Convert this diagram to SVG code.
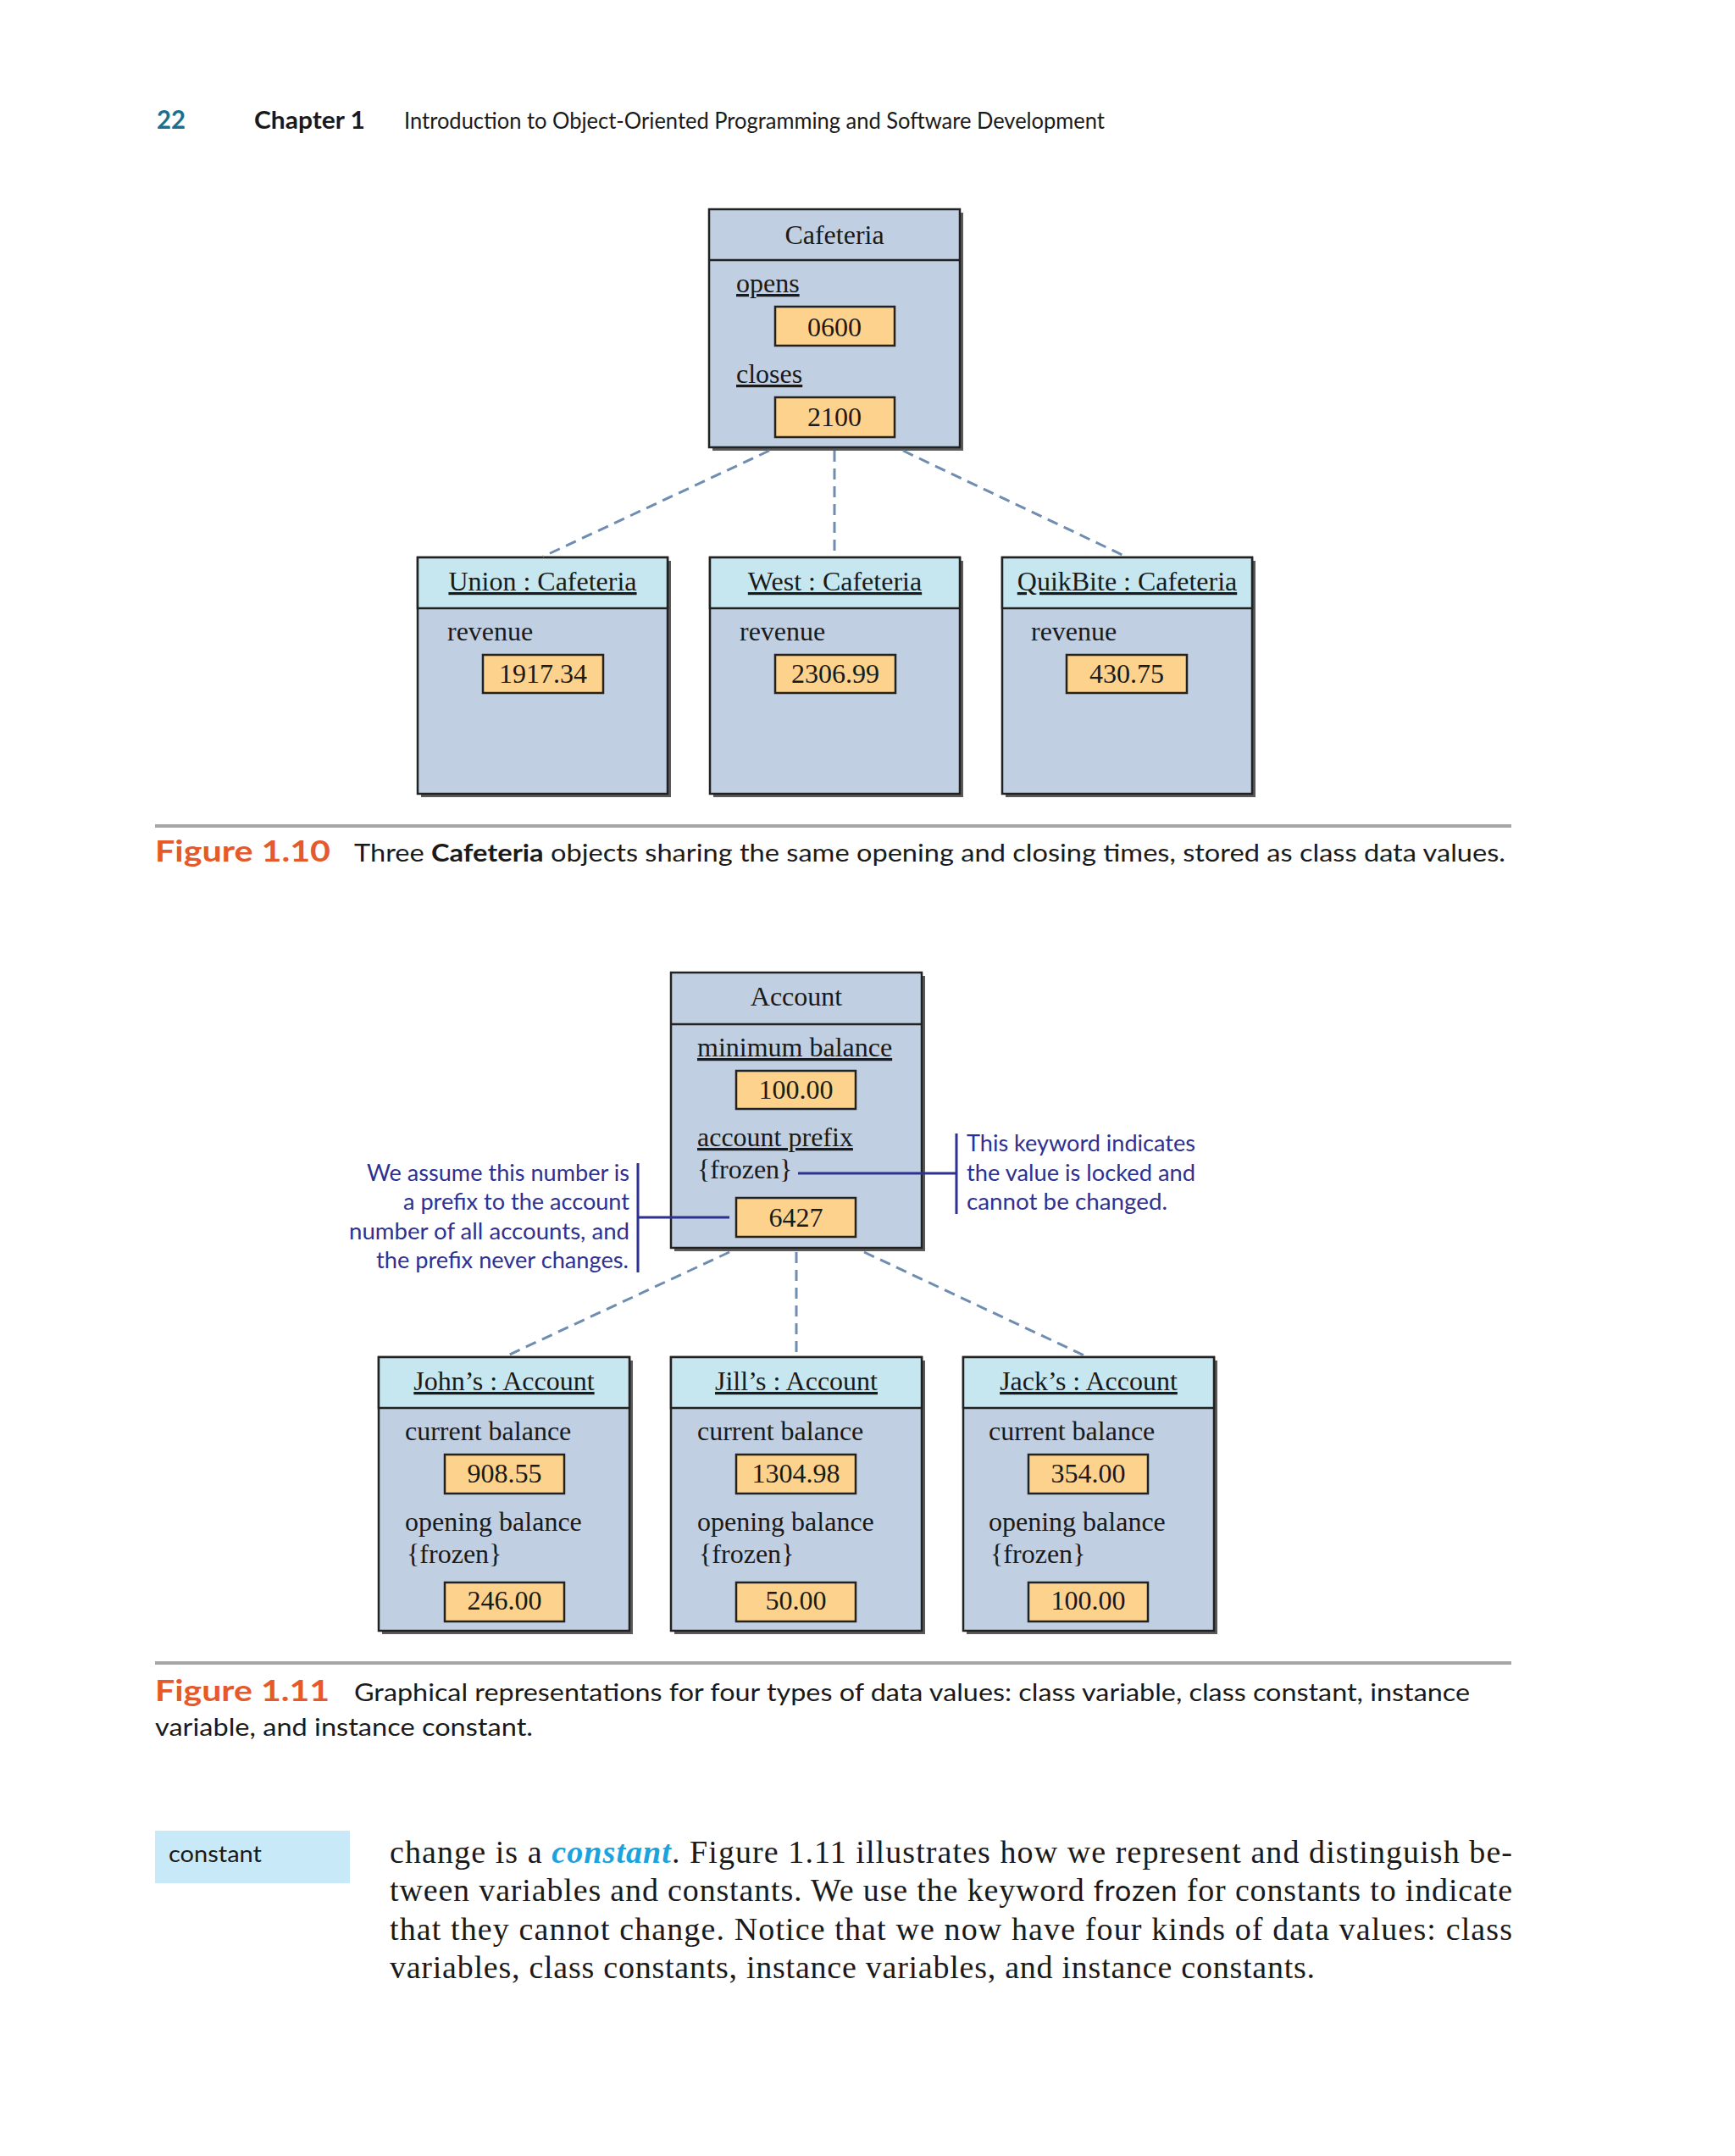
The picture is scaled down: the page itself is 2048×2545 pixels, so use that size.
<svg xmlns="http://www.w3.org/2000/svg" width="2048" height="2545" viewBox="0 0 2048 2545">
<style>
.s{font-family:"Liberation Serif","Times New Roman",serif;font-size:32px;fill:#1a1a1a}
.c{text-anchor:middle}
.u{text-decoration:underline}
.sans{font-family:Lato,"Liberation Sans",sans-serif}
.body{fill:#c0cfe1;stroke:#222;stroke-width:2.5}
.ohead{fill:#c6e7ef;stroke:#222;stroke-width:2.5}
.sh{fill:#5a5a5a}
.val{fill:#fdd28c;stroke:#222;stroke-width:2.5}
.dv{stroke:#222;stroke-width:2.5}
.dash{stroke:#6e8db0;stroke-width:3;stroke-dasharray:13 8;fill:none}
.ann{stroke:#2e3192;stroke-width:3;fill:none}
.annt{font-family:Lato,"Liberation Sans",sans-serif;font-size:27px;fill:#2e3192}
.cap{font-family:Lato,"Liberation Sans",sans-serif;font-size:29px;fill:#1a1a1a}
.fig{font-family:Lato,"Liberation Sans",sans-serif;font-size:35px;font-weight:700;fill:#e5592b}
.txt{font-family:"Liberation Serif","Times New Roman",serif;font-size:38px;fill:#1a1a1a}
</style>
<rect width="2048" height="2545" fill="#ffffff"/>

<g id="header">
<text x="185" y="152" class="sans" font-size="30" font-weight="700" fill="#1a6f8f" textLength="34" lengthAdjust="spacingAndGlyphs">22</text>
<text x="300" y="152" class="sans" font-size="29" font-weight="700" fill="#1a1a1a" textLength="131" lengthAdjust="spacingAndGlyphs">Chapter 1</text>
<text x="477" y="152" class="sans" font-size="26" fill="#1a1a1a" textLength="827" lengthAdjust="spacingAndGlyphs">Introduction to Object-Oriented Programming and Software Development</text>
</g>

<g id="cafeteria">
<rect class="sh" x="841" y="251" width="296" height="281"/>
<rect class="body" x="837" y="247" width="296" height="281"/>
<line class="dv" x1="837" y1="307" x2="1133" y2="307"/>
<text class="s c" x="985" y="288">Cafeteria</text>
<text class="s u" x="869" y="345">opens</text>
<rect class="val" x="915" y="362" width="141" height="46"/>
<text class="s c" x="985" y="397">0600</text>
<text class="s u" x="869" y="452">closes</text>
<rect class="val" x="915" y="469" width="141" height="47"/>
<text class="s c" x="985" y="503">2100</text>
</g>

<g id="union">
<rect class="sh" x="497" y="662" width="295" height="279"/>
<rect class="body" x="493" y="658" width="295" height="279"/>
<rect class="ohead" x="493" y="658" width="295" height="60"/>
<text class="s c u" x="640.5" y="697">Union : Cafeteria</text>
<text class="s" x="528" y="756">revenue</text>
<rect class="val" x="570" y="773" width="142" height="45"/>
<text class="s c" x="641" y="806">1917.34</text>
</g>

<g id="west">
<rect class="sh" x="842" y="662" width="295" height="279"/>
<rect class="body" x="838" y="658" width="295" height="279"/>
<rect class="ohead" x="838" y="658" width="295" height="60"/>
<text class="s c u" x="985.5" y="697">West : Cafeteria</text>
<text class="s" x="873" y="756">revenue</text>
<rect class="val" x="915" y="773" width="142" height="45"/>
<text class="s c" x="986" y="806">2306.99</text>
</g>

<g id="quikbite">
<rect class="sh" x="1187" y="662" width="295" height="279"/>
<rect class="body" x="1183" y="658" width="295" height="279"/>
<rect class="ohead" x="1183" y="658" width="295" height="60"/>
<text class="s c u" x="1330.5" y="697">QuikBite : Cafeteria</text>
<text class="s" x="1217" y="756">revenue</text>
<rect class="val" x="1259" y="773" width="142" height="45"/>
<text class="s c" x="1330" y="806">430.75</text>
</g>

<g id="caption110">
<rect x="183" y="973" width="1601" height="4" fill="#a6a6a6"/>
<text class="fig" x="183" y="1017" textLength="207" lengthAdjust="spacingAndGlyphs">Figure 1.10</text>
<text class="cap" x="418" y="1017" textLength="1359" lengthAdjust="spacingAndGlyphs">Three <tspan font-weight="700">Cafeteria</tspan> objects sharing the same opening and closing times, stored as class data values.</text>
</g>

<g id="account">
<rect class="sh" x="796" y="1152" width="296" height="325"/>
<rect class="body" x="792" y="1148" width="296" height="325"/>
<line class="dv" x1="792" y1="1209" x2="1088" y2="1209"/>
<text class="s c" x="940" y="1187">Account</text>
<text class="s u" x="823" y="1247">minimum balance</text>
<rect class="val" x="869" y="1264" width="141" height="45"/>
<text class="s c" x="939.5" y="1297">100.00</text>
<text class="s u" x="823" y="1353">account prefix</text>
<text class="s" x="823" y="1391">{frozen}</text>
<rect class="val" x="869" y="1414" width="141" height="46"/>
<text class="s c" x="939.5" y="1448">6427</text>
</g>

<g id="note-right">
<text class="annt" x="1141" y="1359" textLength="270" lengthAdjust="spacingAndGlyphs">This keyword indicates</text>
<text class="annt" x="1141" y="1394" textLength="270" lengthAdjust="spacingAndGlyphs">the value is locked and</text>
<text class="annt" x="1141" y="1428" textLength="237" lengthAdjust="spacingAndGlyphs">cannot be changed.</text>
</g>

<g id="note-left">
<text class="annt" x="433" y="1394" textLength="310" lengthAdjust="spacingAndGlyphs">We assume this number is</text>
<text class="annt" x="476" y="1428" textLength="267" lengthAdjust="spacingAndGlyphs">a prefix to the account</text>
<text class="annt" x="412" y="1463" textLength="331" lengthAdjust="spacingAndGlyphs">number of all accounts, and</text>
<text class="annt" x="444" y="1497" textLength="298" lengthAdjust="spacingAndGlyphs">the prefix never changes.</text>
</g>

<g id="john">
<rect class="sh" x="451" y="1606" width="296" height="323"/>
<rect class="body" x="447" y="1602" width="296" height="323"/>
<rect class="ohead" x="447" y="1602" width="296" height="60"/>
<text class="s c u" x="595" y="1641">John’s : Account</text>
<text class="s" x="478" y="1700">current balance</text>
<rect class="val" x="525" y="1717" width="141" height="46"/>
<text class="s c" x="595.5" y="1750">908.55</text>
<text class="s" x="478" y="1807">opening balance</text>
<text class="s" x="480" y="1845">{frozen}</text>
<rect class="val" x="525" y="1868" width="141" height="46"/>
<text class="s c" x="595.5" y="1900">246.00</text>
</g>

<g id="jill">
<rect class="sh" x="796" y="1606" width="296" height="323"/>
<rect class="body" x="792" y="1602" width="296" height="323"/>
<rect class="ohead" x="792" y="1602" width="296" height="60"/>
<text class="s c u" x="940" y="1641">Jill’s : Account</text>
<text class="s" x="823" y="1700">current balance</text>
<rect class="val" x="869" y="1717" width="141" height="46"/>
<text class="s c" x="939.5" y="1750">1304.98</text>
<text class="s" x="823" y="1807">opening balance</text>
<text class="s" x="825" y="1845">{frozen}</text>
<rect class="val" x="869" y="1868" width="141" height="46"/>
<text class="s c" x="939.5" y="1900">50.00</text>
</g>

<g id="jack">
<rect class="sh" x="1141" y="1606" width="296" height="323"/>
<rect class="body" x="1137" y="1602" width="296" height="323"/>
<rect class="ohead" x="1137" y="1602" width="296" height="60"/>
<text class="s c u" x="1285" y="1641">Jack’s : Account</text>
<text class="s" x="1167" y="1700">current balance</text>
<rect class="val" x="1214" y="1717" width="141" height="46"/>
<text class="s c" x="1284.5" y="1750">354.00</text>
<text class="s" x="1167" y="1807">opening balance</text>
<text class="s" x="1169" y="1845">{frozen}</text>
<rect class="val" x="1214" y="1868" width="141" height="46"/>
<text class="s c" x="1284.5" y="1900">100.00</text>
</g>

<g id="connectors">
<line class="dash" x1="908" y1="532" x2="641" y2="657"/>
<line class="dash" x1="985" y1="532" x2="985" y2="657"/>
<line class="dash" x1="1066" y1="532" x2="1329" y2="657"/>
<line class="dash" x1="861" y1="1478" x2="595" y2="1602"/>
<line class="dash" x1="940" y1="1478" x2="940" y2="1602"/>
<line class="dash" x1="1020" y1="1478" x2="1284" y2="1602"/>
<path class="ann" d="M942 1385 H1129 M1129 1338 V1433"/>
<path class="ann" d="M861 1437 H753 M753 1373 V1502"/>
</g>

<g id="caption111">
<rect x="183" y="1961" width="1601" height="4" fill="#a6a6a6"/>
<text class="fig" x="183" y="2008" textLength="206" lengthAdjust="spacingAndGlyphs">Figure 1.11</text>
<text class="cap" x="418" y="2008" textLength="1317" lengthAdjust="spacingAndGlyphs">Graphical representations for four types of data values: class variable, class constant, instance</text>
<text class="cap" x="183" y="2049" textLength="446" lengthAdjust="spacingAndGlyphs">variable, and instance constant.</text>
</g>

<g id="margin-note">
<rect x="183" y="2161" width="230" height="62" fill="#c8eaf8"/>
<text class="sans" x="199" y="2198" font-size="27" fill="#1a1a1a" textLength="110" lengthAdjust="spacingAndGlyphs">constant</text>
</g>

<g id="body-text">
<text class="txt" x="460" y="2199" textLength="1325" lengthAdjust="spacing">change is a <tspan font-style="italic" font-weight="700" fill="#1aa3dc">constant</tspan>. Figure 1.11 illustrates how we represent and distinguish be-</text>
<text class="txt" x="460" y="2244" textLength="1325" lengthAdjust="spacing">tween variables and constants. We use the keyword <tspan font-family="Lato, 'Liberation Sans', sans-serif" font-size="34">frozen</tspan> for constants to indicate</text>
<text class="txt" x="460" y="2290" textLength="1325" lengthAdjust="spacing">that they cannot change. Notice that we now have four kinds of data values: class</text>
<text class="txt" x="460" y="2335" textLength="1092" lengthAdjust="spacing">variables, class constants, instance variables, and instance constants.</text>
</g>
</svg>
